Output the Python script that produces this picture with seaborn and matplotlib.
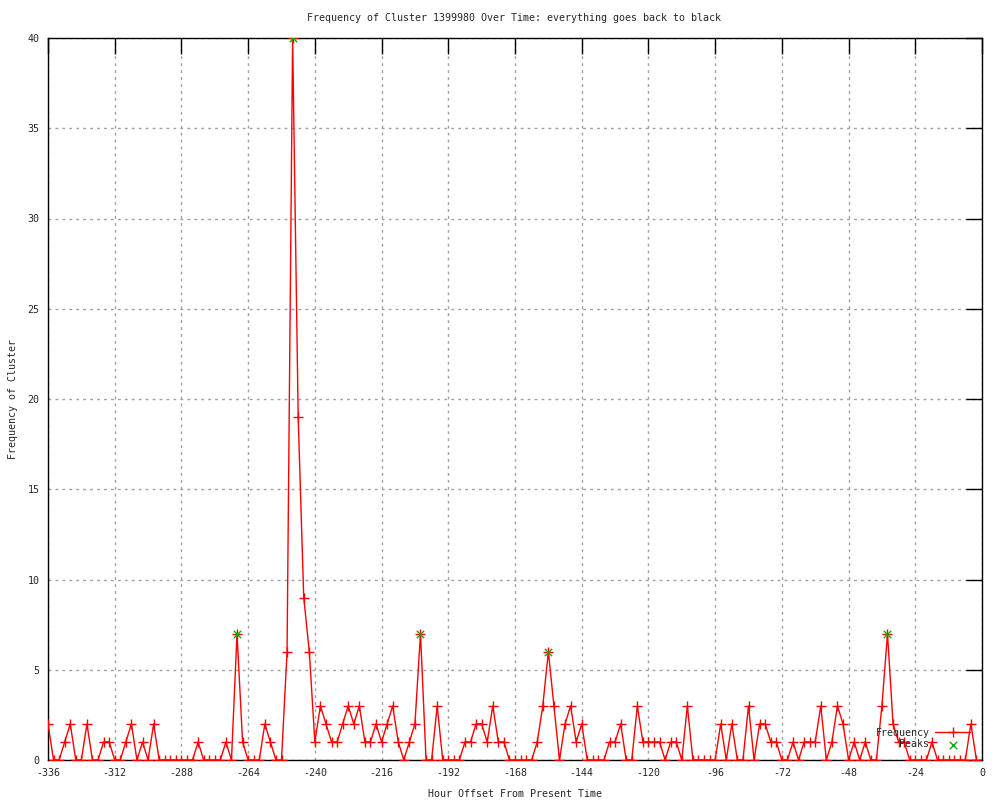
import matplotlib
matplotlib.use("Agg")
import matplotlib.pyplot as plt
import seaborn as sns

# hour offsets, one sample every 2 hours
hours = list(range(-336, 0, 2))

# frequency of the cluster at each offset
freq = [
    2, 0, 0, 1, 2, 0, 0, 2, 0, 0, 1, 1, 0, 0, 1, 2, 0, 1, 0, 2,
    0, 0, 0, 0, 0, 0, 0, 1, 0, 0, 0, 0, 1, 0, 7, 1, 0, 0, 0, 2,
    1, 0, 0, 6, 40, 19, 9, 6, 1, 3, 2, 1, 1, 2, 3, 2, 3, 1, 1, 2,
    1, 2, 3, 1, 0, 1, 2, 7, 0, 0, 3, 0, 0, 0, 0, 1, 1, 2, 2, 1,
    3, 1, 1, 0, 0, 0, 0, 0, 1, 3, 6, 3, 0, 2, 3, 1, 2, 0, 0, 0,
    0, 1, 1, 2, 0, 0, 3, 1, 1, 1, 1, 0, 1, 1, 0, 3, 0, 0, 0, 0,
    0, 2, 0, 2, 0, 0, 3, 0, 2, 2, 1, 1, 0, 0, 1, 0, 1, 1, 1, 3,
    0, 1, 3, 2, 0, 1, 0, 1, 0, 0, 3, 7, 2, 1, 1, 0, 0, 0, 0, 1,
    0, 0, 0, 0, 0, 0, 2, 0,
]

# detected peaks
peak_hours = [-268, -248, -202, -156, -34]
peak_values = [7, 40, 7, 6, 7]

x_ticks = list(range(-336, 1, 24))
y_ticks = list(range(0, 41, 5))

sns.set_style("white")
plt.rcParams['font.family'] = ['DejaVu Sans Mono']
plt.rcParams['font.size'] = 7.2
plt.rcParams['axes.unicode_minus'] = False

fig = plt.figure(figsize=(10, 8), dpi=100)
ax = fig.add_axes([0.048, 0.05, 0.934, 0.9025])

sns.lineplot(x=hours, y=freq, ax=ax, color='red', linewidth=1,
             marker='+', markersize=7, markeredgewidth=1,
             markeredgecolor='red', label='Frequency', zorder=3)
sns.scatterplot(x=peak_hours, y=peak_values, ax=ax, marker='x',
                color='#00b000', s=28, linewidth=1, label='Peaks', zorder=4)

ax.set_xlim(-336, 0)
ax.set_ylim(0, 40)
ax.set_xticks(x_ticks)
ax.set_yticks(y_ticks)
ax.grid(True, color='#a0a0a0', linestyle=(0, (2, 3)), linewidth=1)
ax.set_axisbelow(True)
for s in ax.spines.values():
    s.set_color('black')
    s.set_linewidth(1)
ax.tick_params(direction='in', length=11.5, width=1, color='black',
               top=True, right=True, labelsize=7.2, pad=6)

ax.set_xlabel('Hour Offset From Present Time', fontsize=7.2, labelpad=8)
ax.set_ylabel('')
fig.text(0.013, 0.50125, 'Frequency of Cluster', rotation=90,
         ha='center', va='center', fontsize=7.2)
fig.text(0.514, 1 - 18 / 800, 'Frequency of Cluster 1399980 Over Time: everything goes back to black',
         ha='center', va='center', fontsize=7.2)

leg = ax.legend(loc='lower right', bbox_to_anchor=(0.993, 0.008), frameon=False,
                markerfirst=False, handlelength=3.5, handletextpad=0.6,
                labelspacing=0.15, borderpad=0, fontsize=7.2)

fig.savefig('out.png', dpi=100)
